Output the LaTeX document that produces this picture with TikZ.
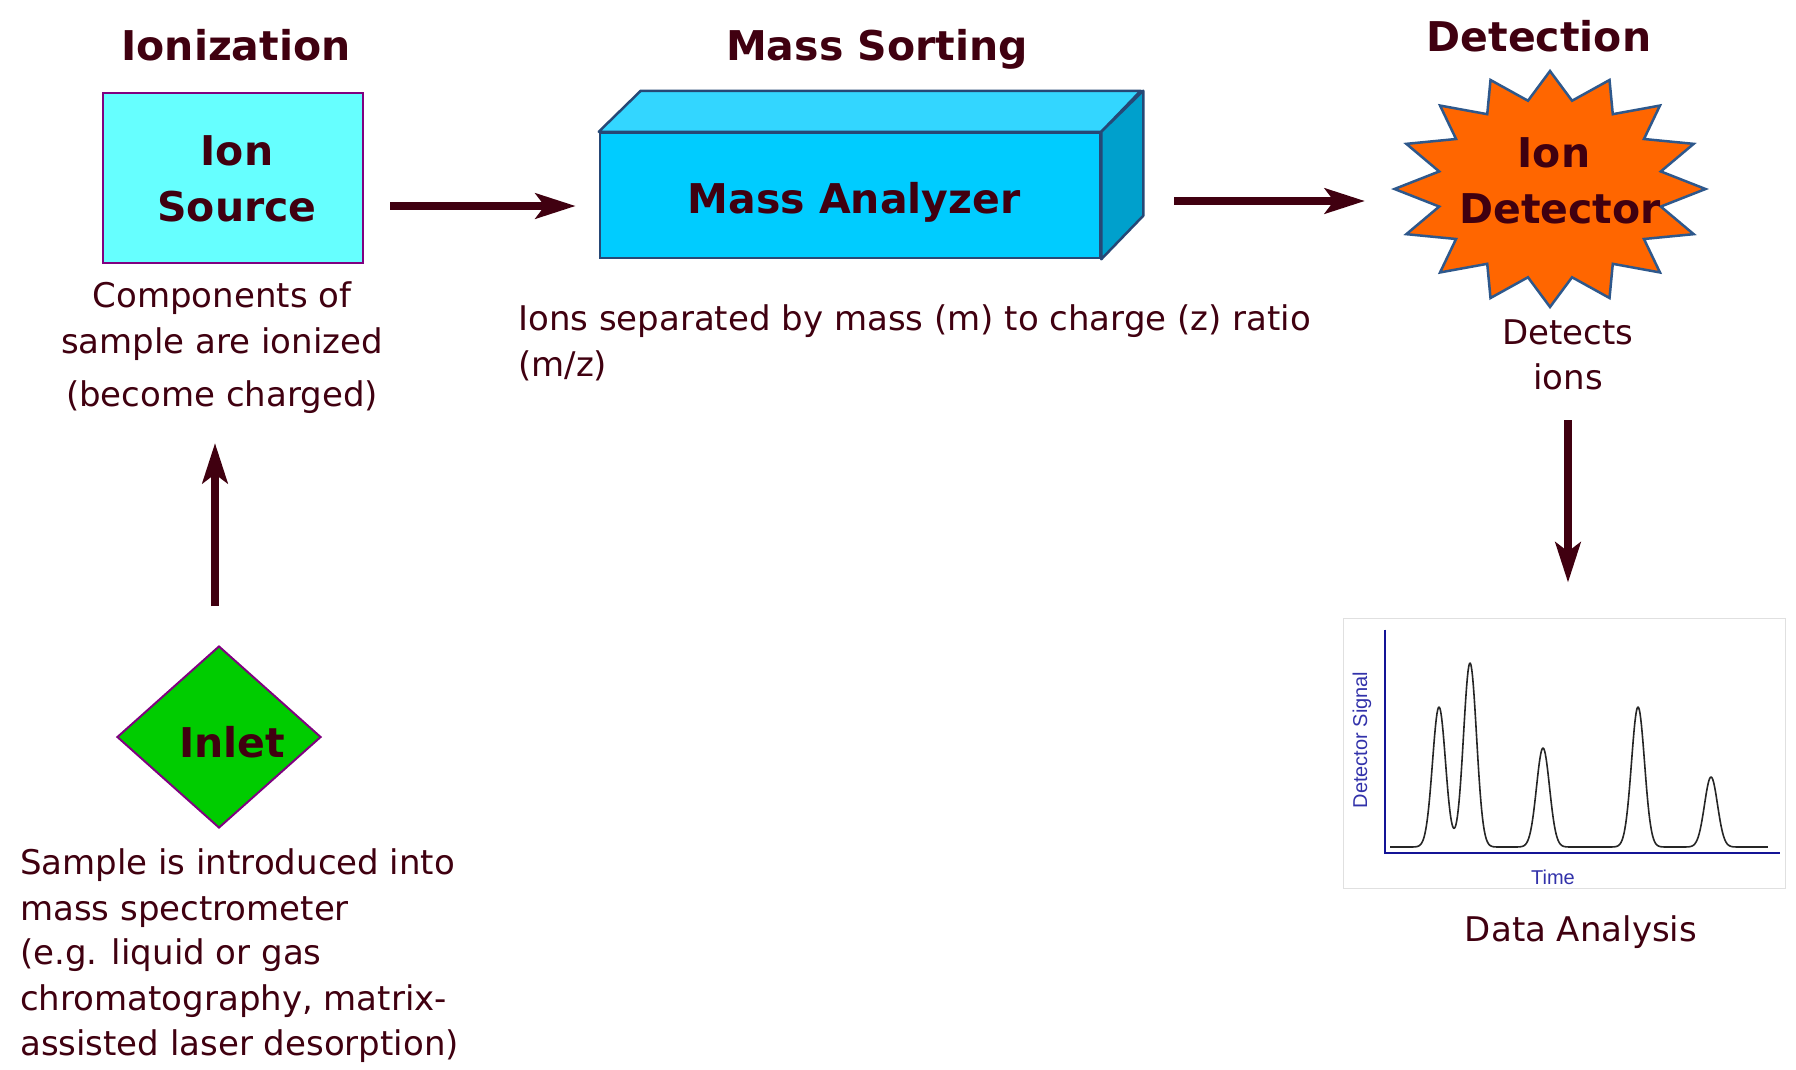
\documentclass[tikz,border=0pt]{standalone}
\usepackage{fontspec}
\setmainfont{DejaVu Sans}
\newfontfamily\chartfont{Liberation Sans}
\usetikzlibrary{arrows.meta,calc,shapes.geometric,backgrounds}
\definecolor{txt}{RGB}{64,0,16}
\definecolor{srcfill}{RGB}{102,255,255}
\definecolor{srcline}{RGB}{128,0,128}
\definecolor{mafront}{RGB}{0,204,255}
\definecolor{matop}{RGB}{51,214,255}
\definecolor{maside}{RGB}{0,160,204}
\definecolor{maline}{RGB}{38,72,118}
\definecolor{burstfill}{RGB}{255,102,0}
\definecolor{burstline}{RGB}{46,88,140}
\definecolor{inletfill}{RGB}{0,204,0}
\definecolor{axisblue}{RGB}{20,20,150}
\definecolor{labelblue}{RGB}{50,50,170}
\begin{document}
\begin{tikzpicture}[x=1pt,y=-1pt,
  body/.style={text=txt, font=\fontsize{34}{44}\selectfont, inner sep=0pt},
  ttl/.style={text=txt, font=\fontsize{41}{50}\selectfont\bfseries, inner sep=0pt},
  arr/.style={draw=txt, line width=8pt, -{Stealth[length=40pt,width=25pt,inset=9pt]}},
  declare function={gp(\t)=exp(-min(\t*\t/0.845,40));}
]
\useasboundingbox (0,0) rectangle (1796,1069);
\fill[white] (0,0) rectangle (1796,1069);

% titles
\node[ttl, anchor=base] (t1) at (236,60) {Ionization};
\node[ttl, anchor=base] (t2) at (877,60) {Mass\ Sorting};
\node[ttl, anchor=base] (t3) at (1539,51) {Detection};

% ion source
\node[draw=srcline, fill=srcfill, line width=2pt, minimum width=260pt, minimum height=170pt, inner sep=0pt] (src) at (233,178) {};
\node[ttl, anchor=base] (srcA) at (237,165) {Ion};
\node[ttl, anchor=base] (srcB) at (237,221) {Source};

\node[body, anchor=base] (comp1) at (222,307) {Components of};
\node[body, anchor=base] (comp2) at (222,353) {sample are ionized};
\node[body, anchor=base] (comp3) at (222,406) {(become charged)};

% mass analyzer
\node[draw=maline, fill=mafront, line width=2.5pt, minimum width=500pt, minimum height=125pt, inner sep=0pt] (ma) at (850,195.5) {};
\draw[draw=maline, fill=matop, line width=2.5pt, line join=round] (ma.north west) -- ++(42,-41) -- ++(500,0) -- (ma.north east) -- cycle;
\draw[draw=maline, fill=maside, line width=2.5pt, line join=round] (ma.north east) -- ++(42,-41) -- ++(0,125) -- (ma.south east) -- cycle;
\node[ttl, anchor=base] (maT) at (854,213) {Mass\ Analyzer};

\node[body, anchor=base west] (ions1) at (518,330) {Ions separated by mass (m) to charge (z) ratio};
\node[body, anchor=base west] (ions2) at (518,376) {(m/z)};

% detector
\coordinate (bc) at (1550,189);
\draw[fill=burstfill, draw=burstline, line width=2.5pt, line join=miter]
  ($(bc)+(155.5,0)$)
  \foreach \k in {0,...,15}{
    -- ($(bc)+({113*cos(\k*22.5+11.25)},{90*sin(\k*22.5+11.25)})$)
    -- ($(bc)+({155.5*cos((\k+1)*22.5)},{118*sin((\k+1)*22.5)})$)
  } -- cycle;
\node[ttl, anchor=base] (detA) at (1554,167) {Ion};
\node[ttl, anchor=base] (detB) at (1560,223) {Detector};

\node[body, anchor=base] (dets1) at (1568,344) {Detects};
\node[body, anchor=base] (dets2) at (1568,389) {ions};

% inlet
\node[diamond, draw=srcline, fill=inletfill, line width=2pt, minimum width=204pt, minimum height=182pt, inner sep=0pt] (inlet) at (219,737) {};
\node[ttl, anchor=base] (inletT) at (232,757) {Inlet};

\node[body, anchor=base west] (s1) at (20,874) {Sample is introduced into};
\node[body, anchor=base west] (s2) at (20,920) {mass spectrometer};
\node[body, anchor=base west] (s3) at (20,964) {(e.g. liquid or gas};
\node[body, anchor=base west] (s4) at (20,1010) {chromatography, matrix-};
\node[body, anchor=base west] (s5) at (20,1055) {assisted laser desorption)};

% chart
\node[fill=white, draw=black!12, line width=0.8pt, minimum width=442pt, minimum height=270pt, inner sep=0pt] (chart) at (1564,753) {};
\begin{pgfonlayer}{background}
  \foreach \i/\o in {1/0.12,2/0.11,3/0.10,4/0.09,5/0.07,6/0.06,7/0.05,8/0.04,9/0.03}
    \fill[black, opacity=\o] ([shift={(\i,\i)}]chart.north west) rectangle ([shift={(\i,\i)}]chart.south east);
\end{pgfonlayer}
\draw[axisblue, line width=2pt] ([shift={(42,12)}]chart.north west) coordinate (ytop) -- ([shift={(42,-35)}]chart.south west) coordinate (orig) -- ([shift={(-5,-35)}]chart.south east);
\draw[black!85, line width=1.6pt, line join=round]
  plot[domain=0:37.8, samples=500] ({1390+10*\x}, {847 - 140*gp(\x-4.9) - 184*gp(\x-8.0) - 99*gp(\x-15.3) - 140*gp(\x-24.8) - 70*gp(\x-32.1)});
\node[text=labelblue, font=\chartfont\fontsize{20}{24}\selectfont, rotate=90, inner sep=0pt] (ylab) at (1362,740) {Detector Signal};
\node[text=labelblue, font=\chartfont\fontsize{20}{24}\selectfont, inner sep=0pt] (xlab) at (1553,877) {Time};

\node[body, anchor=base] (da) at (1581,941) {Data Analysis};

% arrows
\draw[arr] ([shift={(26,28)}]src.east) -- ([shift={(-23,10.5)}]ma.west);
\draw[arr] ([shift={(73,5.5)}]ma.east) -- ($(bc)+(-185,12)$);
\draw[arr] ([shift={(-4,-39)}]inlet.north) -- ([shift={(-7,37)}]comp3.base);
\draw[arr] ([shift={(0,31)}]dets2.base) -- ([shift={(4,-35)}]chart.north);
\end{tikzpicture}
\end{document}
